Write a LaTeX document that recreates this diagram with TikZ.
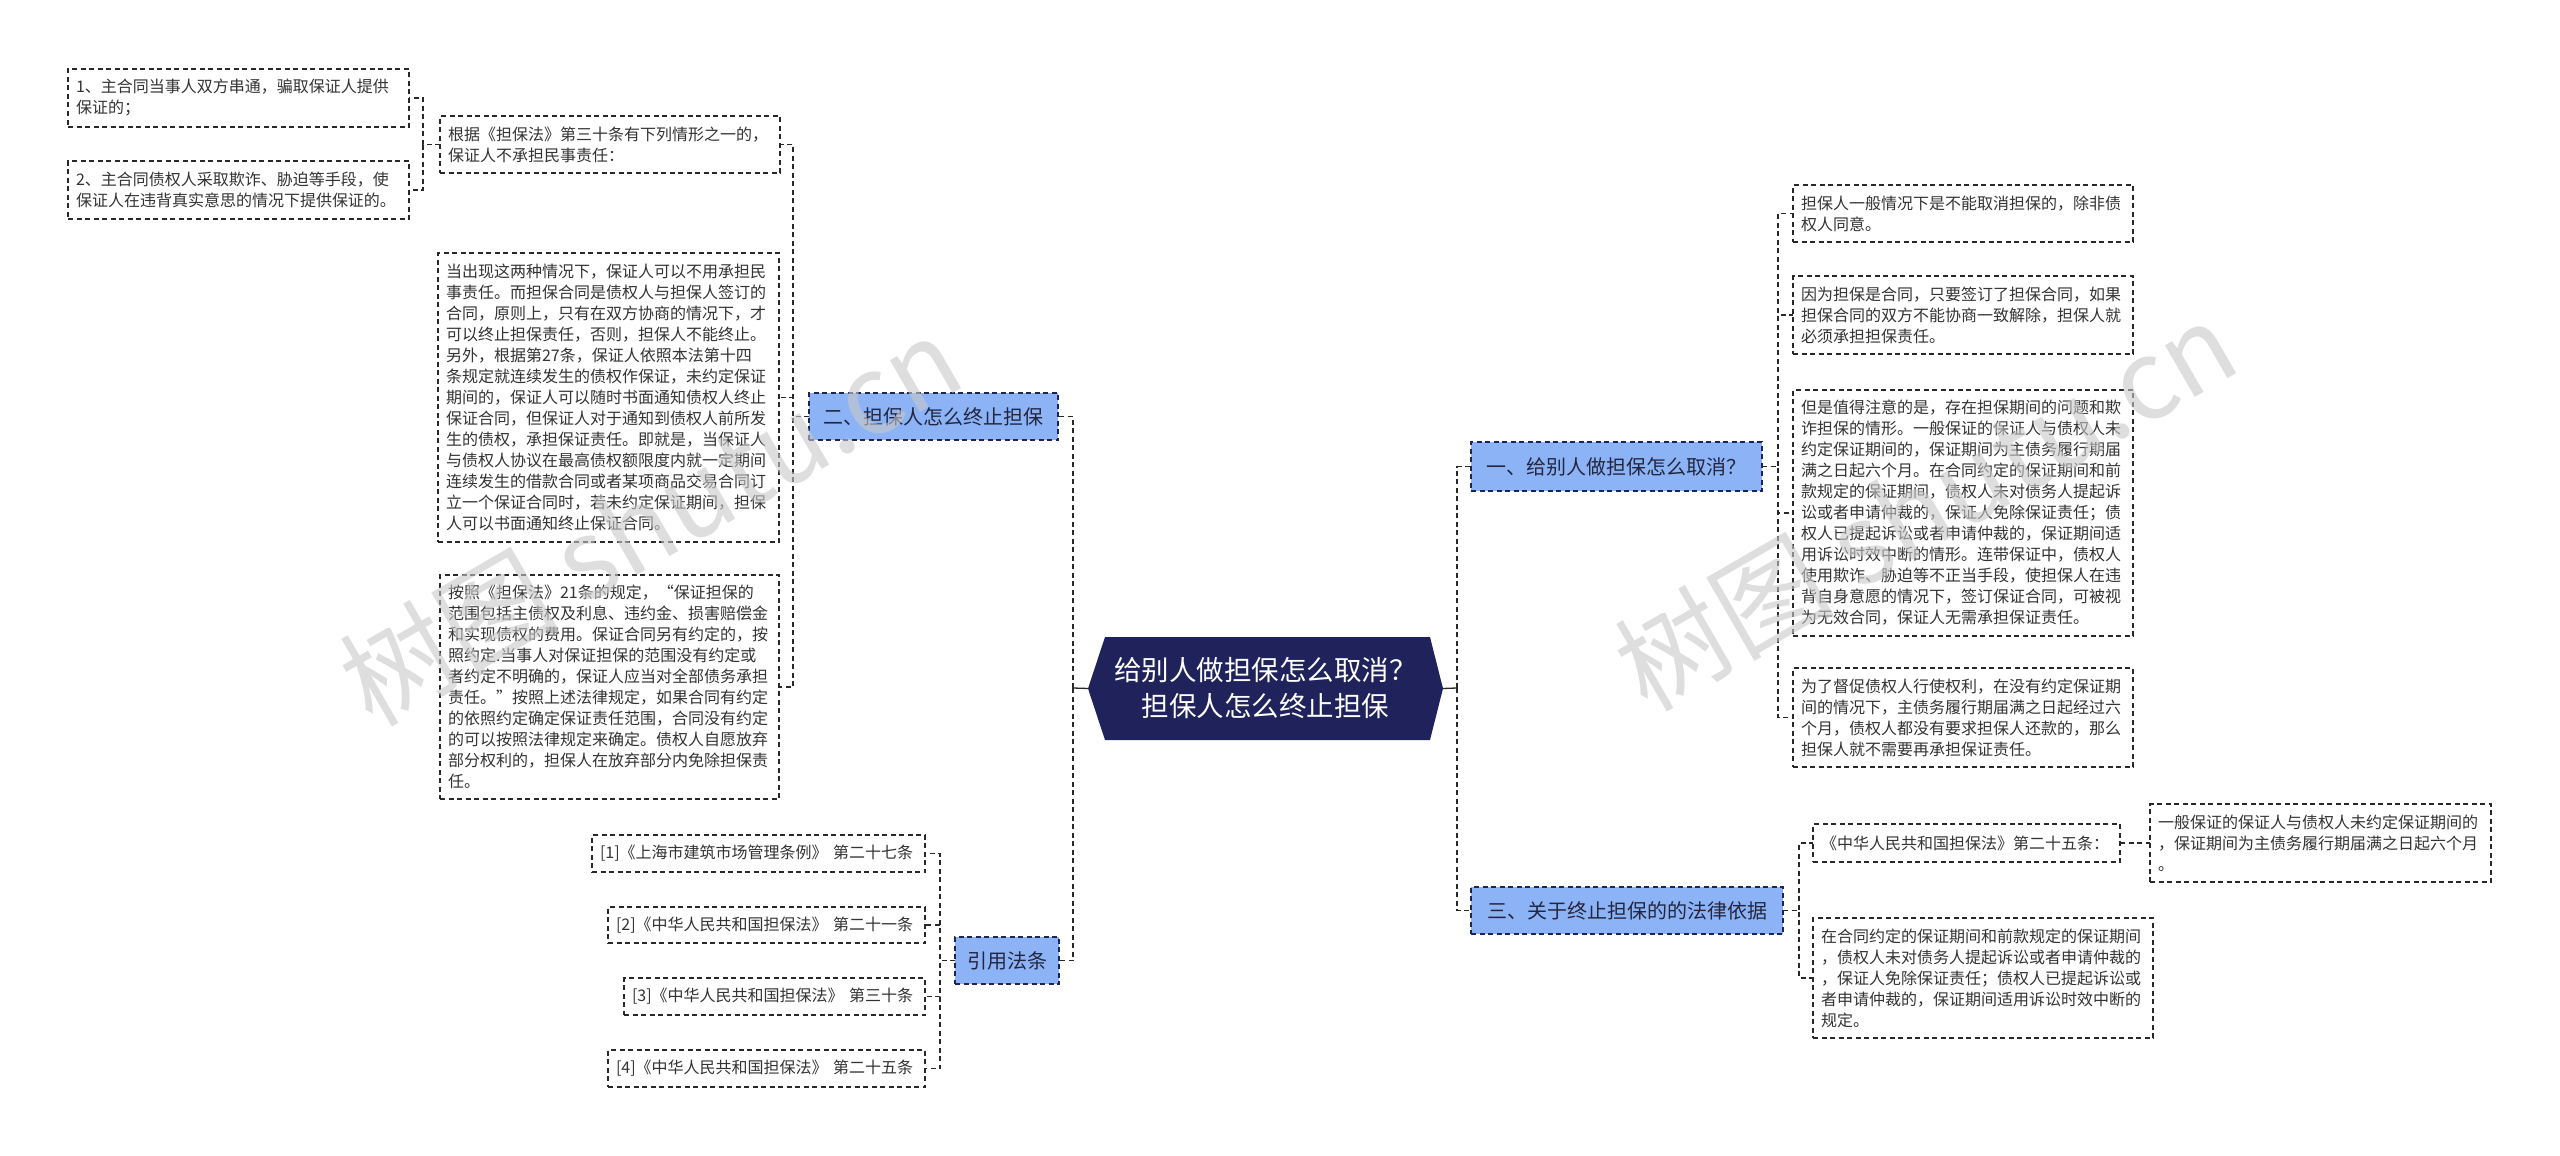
\documentclass[tikz,border=0pt]{standalone}
\usepackage{fontspec}
\setmainfont{Noto Sans CJK SC}
\usetikzlibrary{backgrounds}
\definecolor{navy}{RGB}{32,34,92}
\definecolor{brfill}{RGB}{141,179,247}
\definecolor{txt}{RGB}{51,51,51}
\definecolor{brtxt}{RGB}{35,38,62}
\definecolor{ln}{RGB}{40,40,40}
\definecolor{wmc}{RGB}{200,200,200}
\begin{document}
\begin{tikzpicture}[x=1pt,y=-1pt,
  leaf/.style={draw=ln, dash pattern=on 5pt off 3.5pt, line width=1.3pt, fill=white,
    text=txt, align=left, inner xsep=8pt, inner ysep=0pt, outer sep=0pt,
    font=\fontsize{16}{21}\selectfont, anchor=north west},
  branch/.style={draw=navy, dash pattern=on 5pt off 3.5pt, line width=1.3pt, fill=brfill,
    text=brtxt, inner sep=0pt, outer sep=0pt, font=\fontsize{20}{24}\selectfont},
  conn/.style={draw=ln, line width=1.3pt, dash pattern=on 5pt off 3.5pt},
  stub/.style={draw=ln, line width=1.3pt},
  wmark/.style={text=wmc, text opacity=0.6, rotate=30, font=\fontsize{110}{110}\selectfont}
]
\useasboundingbox (0,0) rectangle (2560,1156);

% centre
\node[text=white, align=center, inner sep=0pt, outer sep=0pt, minimum width=355pt, minimum height=103pt,
  font=\fontsize{27.5}{36}\selectfont] (c) at (1265.5,688.5) {给别人做担保怎么取消？\\担保人怎么终止担保};
\begin{scope}[on background layer]
\fill[white] (0,0) rectangle (2560,1156);
\fill[navy] (c.west) -- ([xshift=17pt]c.north west) -- ([xshift=-13pt]c.north east) -- (c.east)
  -- ([xshift=-13pt]c.south east) -- ([xshift=17pt]c.south west) -- cycle;
\end{scope}

% branches
\node[branch, minimum width=291pt, minimum height=49pt] (b1) at (1616.5,466.5) {一、给别人做担保怎么取消？};
\node[branch, minimum width=249pt, minimum height=47pt] (b2) at (933.5,416.5) {二、担保人怎么终止担保};
\node[branch, minimum width=312pt, minimum height=47pt] (b3) at (1627,910.5) {三、关于终止担保的的法律依据};
\node[branch, minimum width=104pt, minimum height=47pt] (b4) at (1007,960.5) {引用法条};

% leaves of branch 1
\node[leaf, text width=324pt, minimum height=57pt] (l1) at (1793,185) {担保人一般情况下是不能取消担保的，除非债\\权人同意。};
\node[leaf, text width=324pt, minimum height=78pt] (l2) at (1793,276) {因为担保是合同，只要签订了担保合同，如果\\担保合同的双方不能协商一致解除，担保人就\\必须承担担保责任。};
\node[leaf, text width=324pt, minimum height=246pt] (l3) at (1793,390) {但是值得注意的是，存在担保期间的问题和欺\\诈担保的情形。一般保证的保证人与债权人未\\约定保证期间的，保证期间为主债务履行期届\\满之日起六个月。在合同约定的保证期间和前\\款规定的保证期间，债权人未对债务人提起诉\\讼或者申请仲裁的，保证人免除保证责任；债\\权人已提起诉讼或者申请仲裁的，保证期间适\\用诉讼时效中断的情形。连带保证中，债权人\\使用欺诈、胁迫等不正当手段，使担保人在违\\背自身意愿的情况下，签订保证合同，可被视\\为无效合同，保证人无需承担保证责任。};
\node[leaf, text width=324pt, minimum height=99pt] (l4) at (1793,668) {为了督促债权人行使权利，在没有约定保证期\\间的情况下，主债务履行期届满之日起经过六\\个月，债权人都没有要求担保人还款的，那么\\担保人就不需要再承担保证责任。};

% leaves of branch 3
\node[leaf, text width=291pt, minimum height=38pt] (m1) at (1813,824) {《中华人民共和国担保法》第二十五条：};
\node[leaf, text width=324pt, minimum height=120pt] (m2) at (1813,918) {在合同约定的保证期间和前款规定的保证期间\\，债权人未对债务人提起诉讼或者申请仲裁的\\，保证人免除保证责任；债权人已提起诉讼或\\者申请仲裁的，保证期间适用诉讼时效中断的\\规定。};
\node[leaf, text width=325pt, minimum height=78pt] (g1) at (2150,804) {一般保证的保证人与债权人未约定保证期间的\\，保证期间为主债务履行期届满之日起六个月\\。};

% leaves of branch 2
\node[leaf, text width=324pt, minimum height=57pt] (k1) at (440,116) {根据《担保法》第三十条有下列情形之一的，\\保证人不承担民事责任：};
\node[leaf, text width=325pt, minimum height=58pt] (j1) at (68,69) {1、主合同当事人双方串通，骗取保证人提供\\保证的；};
\node[leaf, text width=325pt, minimum height=58pt] (j2) at (68,161) {2、主合同债权人采取欺诈、胁迫等手段，使\\保证人在违背真实意思的情况下提供保证的。};
\node[leaf, text width=325pt, minimum height=289pt] (k2) at (438,253) {当出现这两种情况下，保证人可以不用承担民\\事责任。而担保合同是债权人与担保人签订的\\合同，原则上，只有在双方协商的情况下，才\\可以终止担保责任，否则，担保人不能终止。\\另外，根据第27条，保证人依照本法第十四\\条规定就连续发生的债权作保证，未约定保证\\期间的，保证人可以随时书面通知债权人终止\\保证合同，但保证人对于通知到债权人前所发\\生的债权，承担保证责任。即就是，当保证人\\与债权人协议在最高债权额限度内就一定期间\\连续发生的借款合同或者某项商品交易合同订\\立一个保证合同时，若未约定保证期间，担保\\人可以书面通知终止保证合同。};
\node[leaf, text width=323pt, minimum height=224pt] (k3) at (440,575) {按照《担保法》21条的规定，“保证担保的\\范围包括主债权及利息、违约金、损害赔偿金\\和实现债权的费用。保证合同另有约定的，按\\照约定.当事人对保证担保的范围没有约定或\\者约定不明确的，保证人应当对全部债务承担\\责任。”按照上述法律规定，如果合同有约定\\的依照约定确定保证责任范围，合同没有约定\\的可以按照法律规定来确定。债权人自愿放弃\\部分权利的，担保人在放弃部分内免除担保责\\任。};

% leaves of branch 4
\node[leaf, text width=317pt, minimum height=37pt] (r1) at (592,835) {[1]《上海市建筑市场管理条例》 第二十七条};
\node[leaf, text width=301pt, minimum height=36pt] (r2) at (608,907) {[2]《中华人民共和国担保法》 第二十一条};
\node[leaf, text width=285pt, minimum height=37pt] (r3) at (624,978) {[3]《中华人民共和国担保法》 第三十条};
\node[leaf, text width=301pt, minimum height=37pt] (r4) at (608,1050) {[4]《中华人民共和国担保法》 第二十五条};

% connectors
\coordinate (lb) at (1073,688);
\coordinate (rb) at (1457,688);
\draw[stub] (c.west) -- (lb);
\draw[stub] (c.east) -- (rb);
\draw[conn] (lb) |- (b2.east);
\draw[conn] (lb) |- (b4.east);
\draw[conn] (rb) |- (b1.west);
\draw[conn] (rb) |- (b3.west);

\foreach \t in {l1,l2,l3,l4} \draw[conn] (b1.east) -- ++(16,0) |- (\t.west);
\foreach \t in {m1,m2} \draw[conn] (b3.east) -- ++(16,0) |- (\t.west);
\draw[conn] (m1.east) -- ++(15,0) |- (g1.west);
\foreach \t in {k1,k2,k3} \draw[conn] (b2.west) -- ++(-16,0) |- (\t.east);
\foreach \t in {j1,j2} \draw[conn] (k1.west) -- ++(-17,0) |- (\t.east);
\foreach \t in {r1,r2,r3,r4} \draw[conn] (b4.west) -- ++(-15,0) |- (\t.east);

% watermark
\node[wmark] (wm1) at (650,520) {树图 shutu.cn};
\node[wmark] (wm2) at (1925,505) {树图 shutu.cn};
\end{tikzpicture}
\end{document}
